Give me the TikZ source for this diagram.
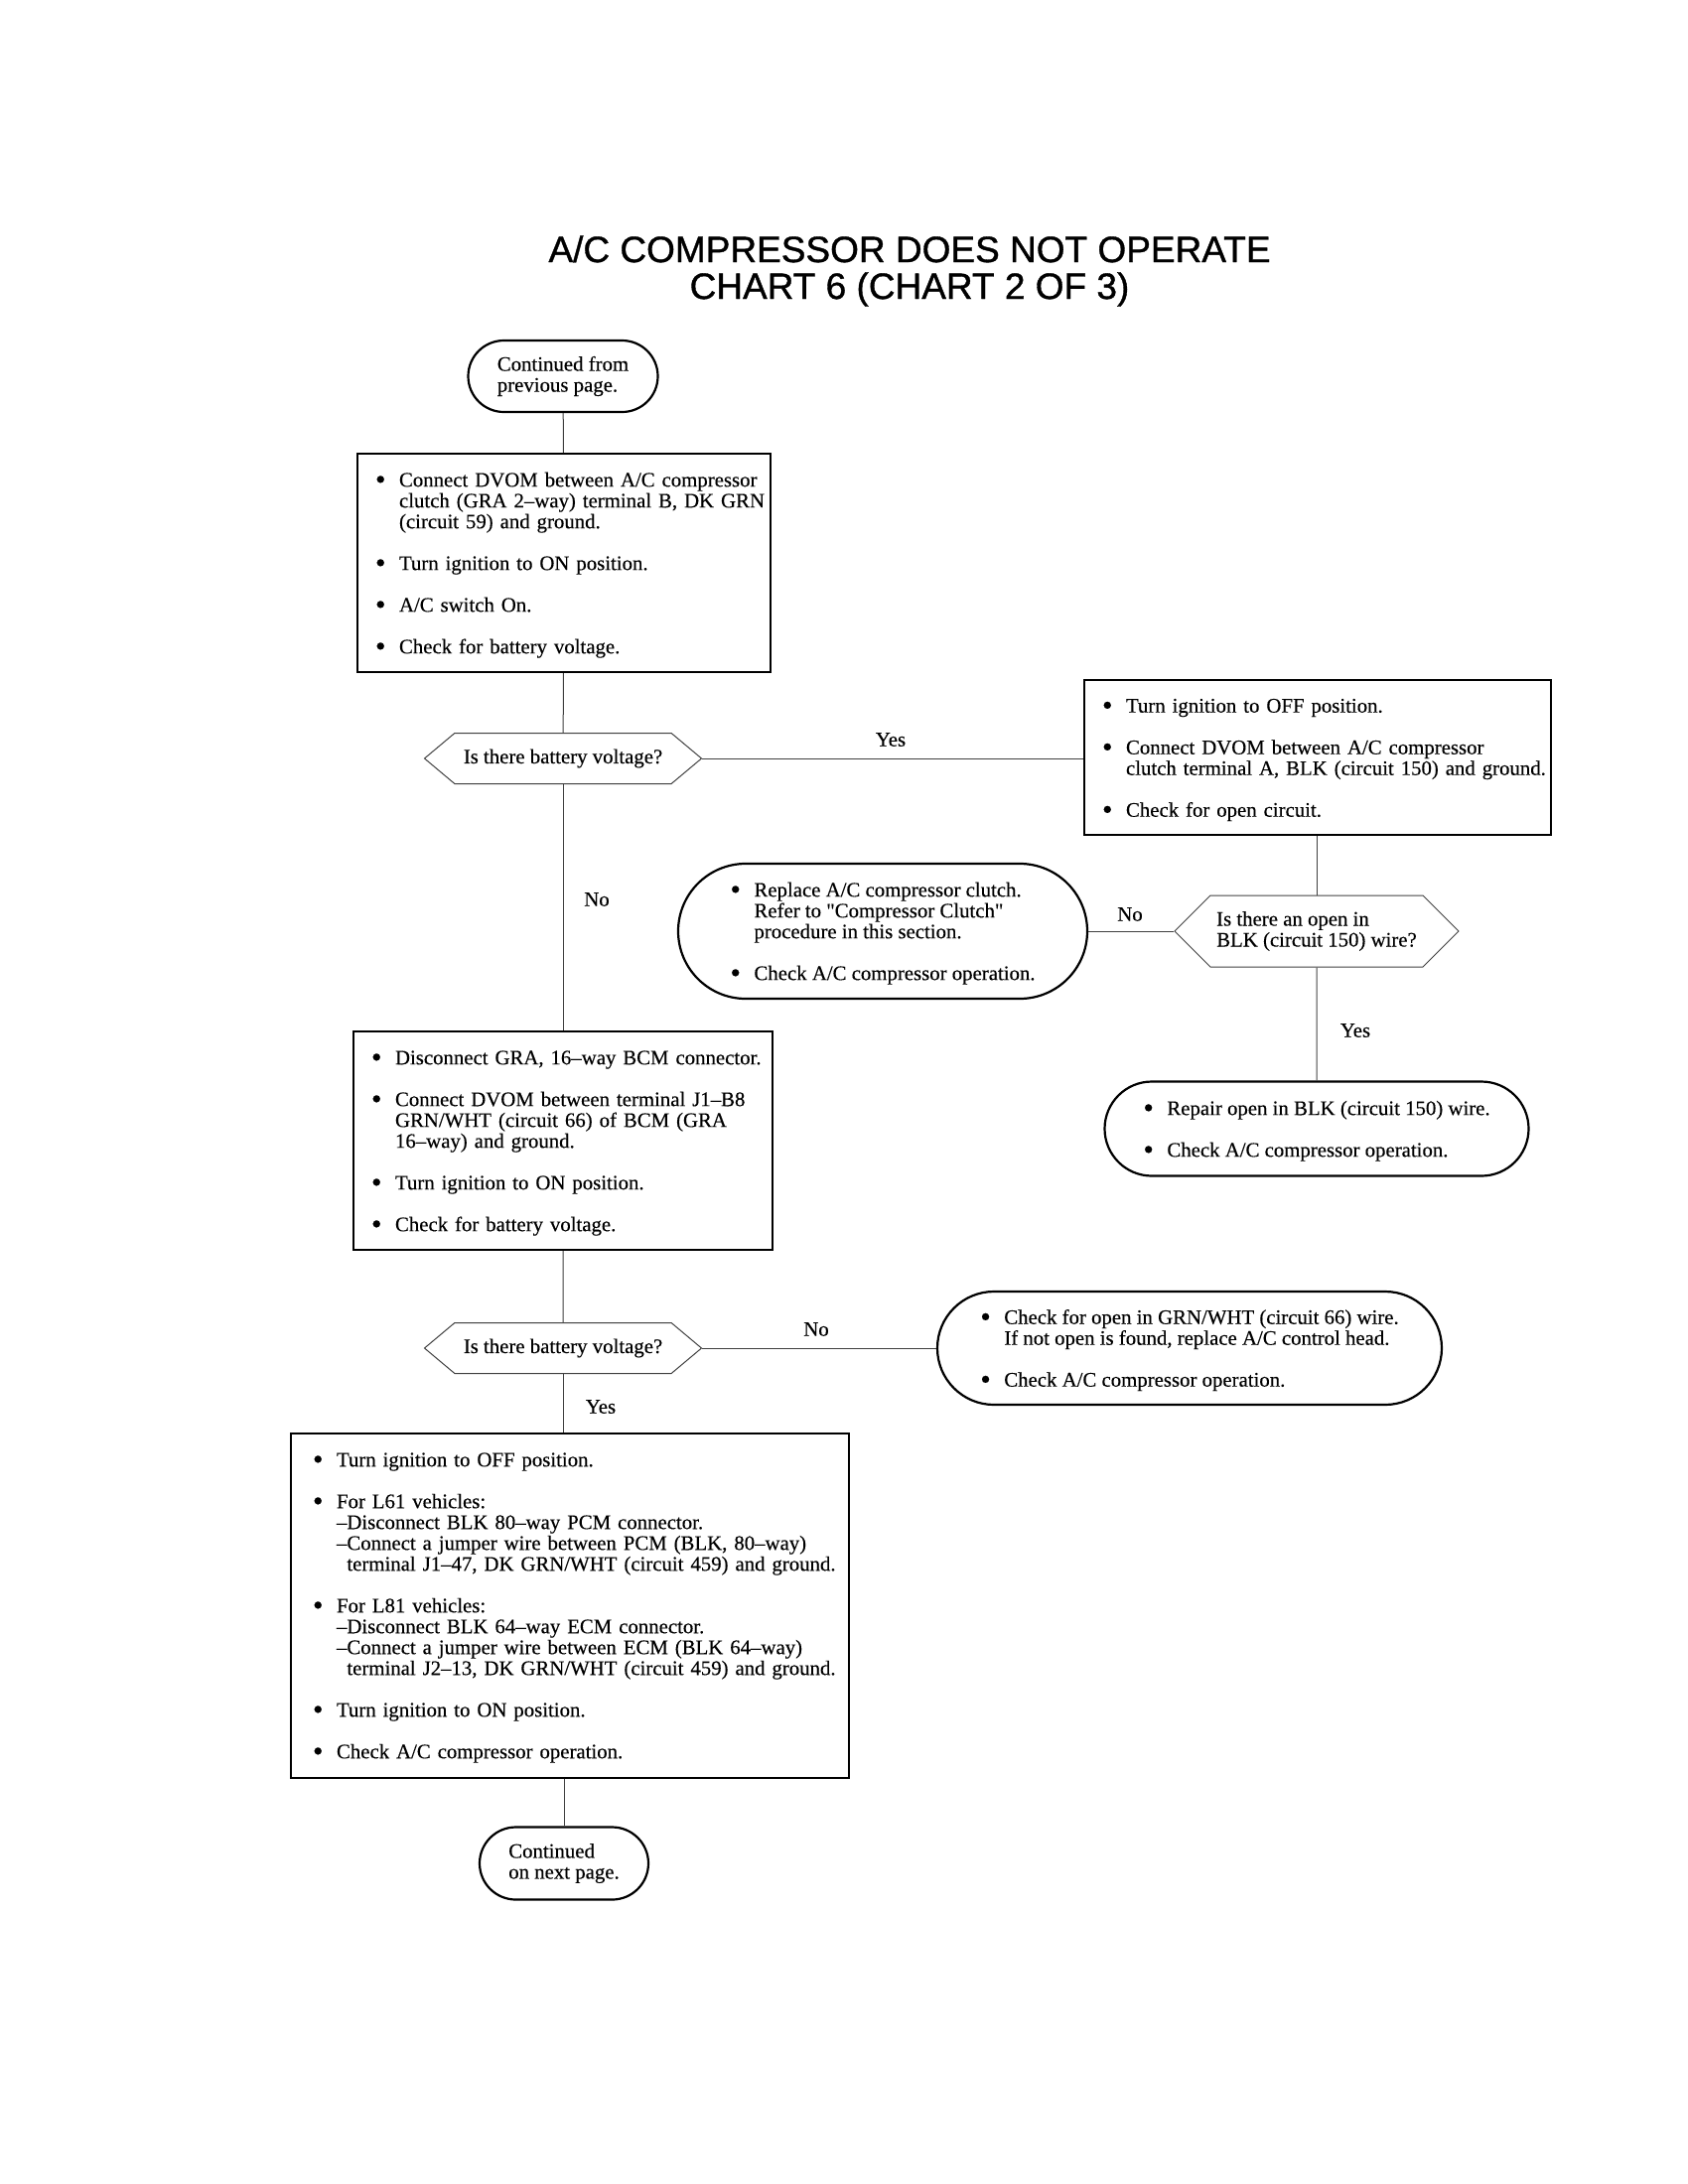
\documentclass[tikz,border=0pt]{standalone}
\usepackage{fontspec}
\setmainfont[FakeBold=0.3]{Liberation Serif}
\newfontfamily\headfont[FakeBold=0.9]{Liberation Sans}
\usetikzlibrary{shapes.misc,shapes.symbols}

% bullet list set as a tabular, lines broken by hand
\newcommand{\blist}[1]{\raisebox{-1.5pt}[\height][\depth]{\begin{tabular}{@{}p{12pt}@{}l@{}}#1\end{tabular}}}
\newcommand{\gap}{\\[10.5pt]}
\newcommand{\bul}{\raisebox{-1.3pt}{\fontsize{15}{10}\selectfont\textbullet}}
\newcommand{\dq}{\XeTeXglyph\XeTeXcharglyph"22\relax}

\tikzset{
  stepbox/.style={draw,line width=1pt,rectangle,align=left,inner xsep=9pt,inner ysep=0pt},
  endbox/.style={draw,line width=1.1pt,rounded rectangle,align=left,inner sep=0pt},
  askbox/.style={draw=black!75,line width=0.5pt,signal,signal to=west and east,align=left,inner sep=0pt},
  ans/.style={inner sep=0pt},
  link/.style={draw=black!75,line width=0.5pt}
}

\begin{document}
\begin{tikzpicture}[x=0.5pt,y=-0.5pt,font=\fontsize{10.4}{10.5}\selectfont]
\useasboundingbox (0,0) rectangle (1700,2200);
\begin{scope}[shift={(0,2)}]

\node[align=center,font=\headfont\fontsize{18.5}{18.5}\selectfont] (title) at (916,271)
  {A/C COMPRESSOR DOES NOT OPERATE\\CHART 6 (CHART 2 OF 3)};

\node[endbox,minimum width=95.5pt,minimum height=36pt] (start) at (567,377)
  {Continued from\\previous page.};

\node[stepbox,text width=190pt,minimum height=110pt] (dvom1) at (568,565)
  {\blist{\bul & Connect DVOM between A/C compressor\\
  & clutch (GRA 2--way) terminal B, DK GRN\\
  & (circuit 59) and ground.\gap
  \bul & Turn ignition to ON position.\gap
  \bul & A/C switch On.\gap
  \bul & Check for battery voltage.}};

\node[askbox,signal pointer angle=80,minimum width=139.5pt,minimum height=25.5pt] (volt1) at (567,762)
  {Is there battery voltage?};

\node[stepbox,text width=217pt,minimum height=78pt] (open1) at (1327,761)
  {\blist{\bul & Turn ignition to OFF position.\gap
  \bul & Connect DVOM between A/C compressor\\
  & clutch terminal A, BLK (circuit 150) and ground.\gap
  \bul & Check for open circuit.}};

\node[askbox,signal pointer angle=90,minimum width=143pt,minimum height=36pt] (blk) at (1326,936)
  {Is there an open in\\BLK (circuit 150) wire?};

\node[endbox,minimum width=206pt,minimum height=68pt] (clutch) at (889,936)
  {\blist{\bul & Replace A/C compressor clutch.\\
  & Refer to \dq Compressor Clutch\dq\\
  & procedure in this section.\gap
  \bul & Check A/C compressor operation.}};

\node[endbox,minimum width=213.5pt,minimum height=47.5pt] (repair) at (1326,1135)
  {\blist{\bul & Repair open in BLK (circuit 150) wire.\gap
  \bul & Check A/C compressor operation.}};

\node[stepbox,text width=193pt,minimum height=110pt] (bcm) at (567,1147)
  {\blist{\bul & Disconnect GRA, 16--way BCM connector.\gap
  \bul & Connect DVOM between terminal J1--B8\\
  & GRN/WHT (circuit 66) of BCM (GRA\\
  & 16--way) and ground.\gap
  \bul & Turn ignition to ON position.\gap
  \bul & Check for battery voltage.}};

\node[askbox,signal pointer angle=80,minimum width=139.5pt,minimum height=25.5pt] (volt2) at (567,1356)
  {Is there battery voltage?};

\node[endbox,minimum width=254pt,minimum height=57pt] (head) at (1198,1356)
  {\blist{\bul & Check for open in GRN/WHT (circuit 66) wire.\\
  & If not open is found, replace A/C control head.\gap
  \bul & Check A/C compressor operation.}};

\node[stepbox,inner xsep=11pt,text width=259pt,minimum height=173.5pt] (jumper) at (574,1615)
  {\blist{\bul & Turn ignition to OFF position.\gap
  \bul & For L61 vehicles:\\
  & --Disconnect BLK 80--way PCM connector.\\
  & --Connect a jumper wire between PCM (BLK, 80--way)\\
  & \phantom{--}terminal J1--47, DK GRN/WHT (circuit 459) and ground.\gap
  \bul & For L81 vehicles:\\
  & --Disconnect BLK 64--way ECM connector.\\
  & --Connect a jumper wire between ECM (BLK 64--way)\\
  & \phantom{--}terminal J2--13, DK GRN/WHT (circuit 459) and ground.\gap
  \bul & Turn ignition to ON position.\gap
  \bul & Check A/C compressor operation.}};

\node[endbox,minimum width=85pt,minimum height=36.5pt] (next) at (568,1875)
  {Continued\\on next page.};

% connectors
\path[link] (start) -- (dvom1);
\path[link] (dvom1) -- (volt1);
\path[link] (volt1.east) -- (volt1.east -| open1.west);
\path[link] (volt1) -- (bcm);
\path[link] (blk.north) -- (blk.north |- open1.south);
\path[link] (blk.west) -- (clutch.east);
\path[link] (blk) -- (repair);
\path[link] (bcm) -- (volt2);
\path[link] (volt2.east) -- (volt2.east -| head.west);
\path[link] (volt2.south) -- (volt2.south |- jumper.north);
\path[link] (next.north |- jumper.south) -- (next.north);

% answers
\node[ans] (yes1) at (897,743) {Yes};
\node[ans] (no1) at (601,904) {No};
\node[ans] (no2) at (1138,919) {No};
\node[ans] (yes2) at (1365,1036) {Yes};
\node[ans] (no3) at (822,1337) {No};
\node[ans] (yes3) at (605,1415) {Yes};

\end{scope}
\end{tikzpicture}
\end{document}
